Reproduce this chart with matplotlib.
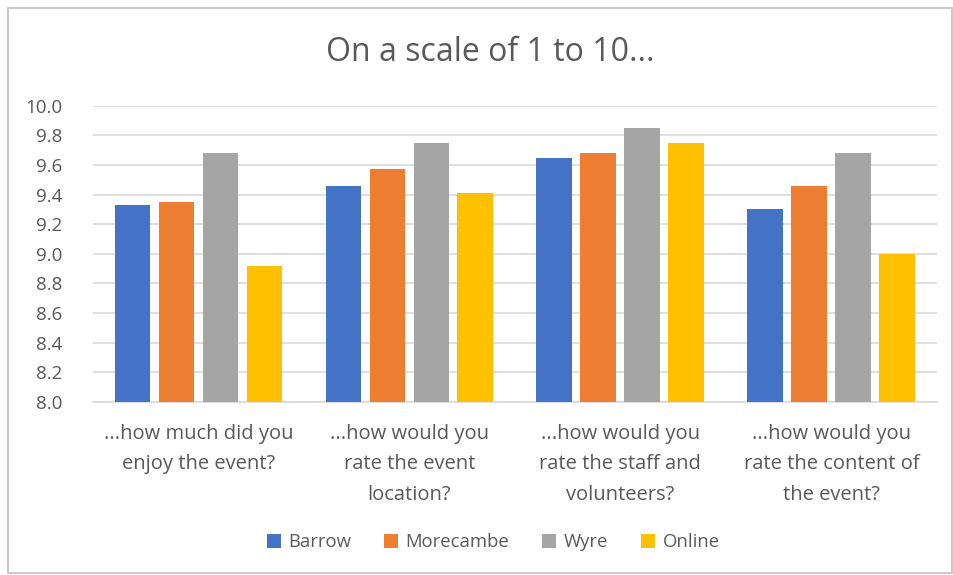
import numpy as np
import matplotlib
matplotlib.use("Agg")
import matplotlib.pyplot as plt
from matplotlib.patches import Rectangle

categories = ["...how much did you\nenjoy the event?",
              "...how would you\nrate the event\nlocation?",
              "...how would you\nrate the staff and\nvolunteers?",
              "...how would you\nrate the content of\nthe event?"]
series_names = ["Barrow", "Morecambe", "Wyre", "Online"]
barrow = [9.33, 9.46, 9.65, 9.30]
morecambe = [9.35, 9.57, 9.68, 9.46]
wyre = [9.68, 9.75, 9.85, 9.68]
online = [8.92, 9.41, 9.75, 9.00]
colors = ["#4472C4", "#ED7D31", "#A5A5A5", "#FFC000"]

plt.rcParams['font.family'] = ['Open Sans', 'DejaVu Sans']
text_col = "#595959"

fig = plt.figure(figsize=(9.54, 5.75), dpi=100)
ax = fig.add_axes([0.0975, 0.301, 0.8845, 0.515])

x = np.arange(len(categories))
pitch = 0.2085
width = 0.17
for i, (name, vals) in enumerate(zip(series_names, [barrow, morecambe, wyre, online])):
    ax.bar(x + (i - 1.5) * pitch, [v - 8.0 for v in vals], width, bottom=8.0,
           color=colors[i], label=name, zorder=3)

ax.set_xlim(-0.5, 3.5)
ax.set_ylim(8.0, 10.0)
ax.set_yticks(np.arange(8.0, 10.01, 0.2))
ax.set_yticklabels([f"{v:.1f}" for v in np.arange(8.0, 10.01, 0.2)])
ax.set_xticks(x)
ax.set_xticklabels(categories, linespacing=1.68)
ax.tick_params(axis='x', length=0, labelsize=14.5, colors=text_col, pad=16)
ax.tick_params(axis='y', length=0, labelsize=13.5, colors=text_col, pad=22)
ax.grid(axis='y', color="#d9d9d9", linewidth=1.2, zorder=0)
for s in ["top", "right", "left"]:
    ax.spines[s].set_visible(False)
ax.spines["bottom"].set_color("#d9d9d9")
ax.spines["bottom"].set_linewidth(1.2)

fig.text(0.514, 0.908, "On a scale of 1 to 10...", ha='center', va='center',
         fontsize=23, color=text_col)

fig.legend(loc='center', bbox_to_anchor=(0.517, 0.057), ncol=4, frameon=False,
           fontsize=13.3, handlelength=0.75, handleheight=0.75, handletextpad=0.4,
           columnspacing=1.8, labelcolor=text_col)

fig.patches.append(Rectangle((0.008, 0.003), 0.99, 0.983, transform=fig.transFigure,
                             fill=False, edgecolor="#bfbfbf", linewidth=1.2))

fig.savefig("out.png", dpi=100)
